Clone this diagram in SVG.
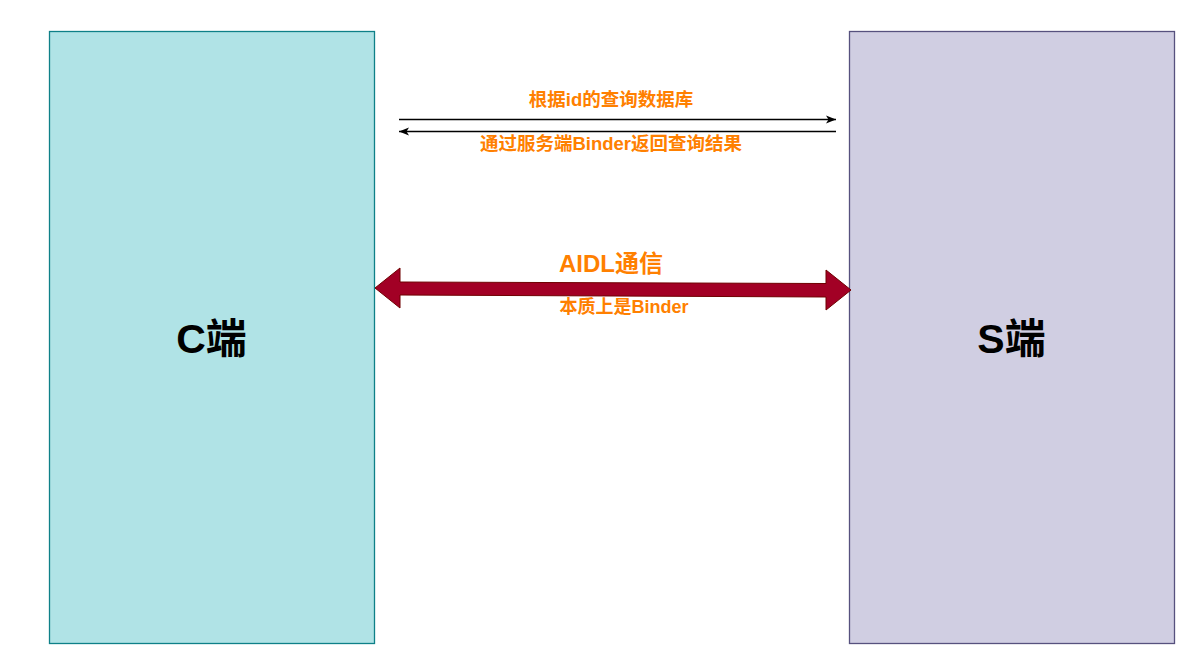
<svg xmlns="http://www.w3.org/2000/svg" width="1203" height="670" viewBox="0 0 1203 670">
<style>
.lbl{font-family:"Liberation Sans","Noto Sans CJK SC",sans-serif;font-weight:bold;fill:#ff8000;text-anchor:middle}
.big{font-family:"Liberation Sans","Noto Sans CJK SC",sans-serif;font-weight:bold;fill:#000;text-anchor:middle;font-size:41px}
.ln{stroke:#000;stroke-width:1.3;fill:none}
</style>
<defs>
<marker id="ah" viewBox="0 0 10 10" refX="10" refY="5" markerWidth="10" markerHeight="10" markerUnits="userSpaceOnUse" orient="auto">
<path d="M0,1 L10,5 L0,9 L2.5,5 Z" fill="#000"/>
</marker>
</defs>
<rect width="1203" height="670" fill="#fff"/>
<g id="client">
<rect x="49.5" y="31.5" width="325" height="612" fill="#b0e3e6" stroke="#0e8088" stroke-width="1.3"/>
<text class="big" x="211.5" y="353">C端</text>
</g>
<g id="server">
<rect x="849.5" y="31.5" width="325" height="612" fill="#d0cee2" stroke="#56517e" stroke-width="1.3"/>
<text class="big" x="1011.5" y="353">S端</text>
</g>
<g id="connectors">
<line class="ln" x1="399" y1="119.5" x2="836" y2="119.5" marker-end="url(#ah)"/>
<line class="ln" x1="836" y1="131.5" x2="399" y2="131.5" marker-end="url(#ah)"/>
<path d="M375,288 L400,268 L400,282 L826,283.5 L826,270 L851,290 L826,310 L826,297 L400,295 L400,308 Z" fill="#a20025" stroke="#6f0000" stroke-width="1"/>
</g>
<g id="labels">
<text class="lbl" x="611" y="106" font-size="18.5">根据id的查询数据库</text>
<text class="lbl" x="611" y="150" font-size="18.5">通过服务端Binder返回查询结果</text>
<text class="lbl" x="611" y="272" font-size="24">AIDL通信</text>
<text class="lbl" x="624" y="313" font-size="18">本质上是Binder</text>
</g>
</svg>
